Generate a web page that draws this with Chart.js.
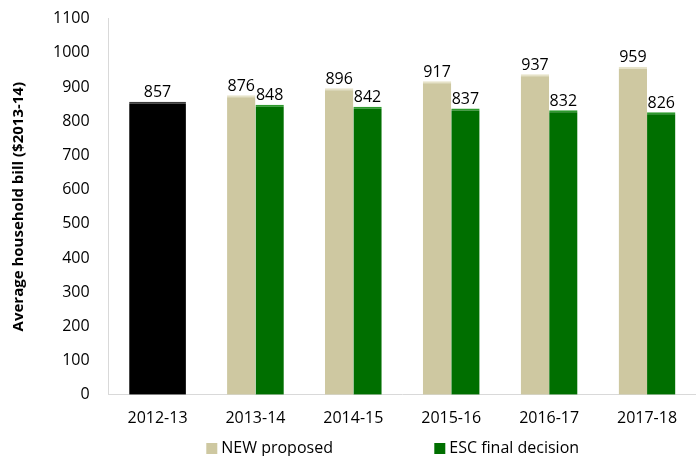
<!DOCTYPE html>
<html>
<head>
<meta charset="utf-8">
<script src="https://cdn.jsdelivr.net/npm/chart.js@4/dist/chart.umd.min.js"></script>
<style>
  html, body { margin: 0; padding: 0; background: #fff; }
  #wrap { width: 696px; height: 456px; }
</style>
</head>
<body>
<div id="wrap"><canvas id="myChart"></canvas></div>
<script>
var years = ['2012-13', '2013-14', '2014-15', '2015-16', '2016-17', '2017-18']
var actual = [857, null, null, null, null, null]
var newProposed = [null, 876, 896, 917, 937, 959]
var escDecision = [null, 848, 842, 837, 832, 826]

var fontFam = '"Open Sans", sans-serif'

// value above each bar
var valueLabels = {
  id: 'valueLabels',
  afterDatasetsDraw: function(chart) {
    var ctx = chart.ctx
    ctx.save()
    ctx.font = '16px ' + fontFam
    ctx.fillStyle = '#000'
    ctx.textAlign = 'center'
    ctx.textBaseline = 'bottom'
    chart.data.datasets.forEach(function(ds, i) {
      var meta = chart.getDatasetMeta(i)
      meta.data.forEach(function(bar, j) {
        var v = ds.data[j]
        if (v === null || v === undefined) return
        ctx.fillText(v, bar.x, bar.y - 1)
      })
    })
    ctx.restore()
  }
}

// legend at the bottom, wide gap between the two entries like the excel one
var bottomLegend = {
  id: 'bottomLegend',
  afterDraw: function(chart) {
    var ctx = chart.ctx
    var area = chart.chartArea
    var items = chart.data.datasets.slice(1)
    var gap = 228
    var x0 = (area.left + area.right) / 2 - 196
    var y = 448
    ctx.save()
    ctx.font = '16px ' + fontFam
    ctx.textBaseline = 'middle'
    ctx.textAlign = 'left'
    items.forEach(function(ds, i) {
      var x = x0 + i * gap
      ctx.fillStyle = ds.backgroundColor
      ctx.fillRect(x, y - 5, 11, 11)
      ctx.fillStyle = '#000'
      ctx.fillText(ds.label, x + 15, y)
    })
    ctx.restore()
  }
}

var ctx = document.getElementById('myChart').getContext('2d')
var chart = new Chart(ctx, {
  type: 'bar',
  data: {
    labels: years,
    datasets: [
      {
        label: '2012-13',
        backgroundColor: '#000000',
        borderColor: '#3a3a3a',
        borderWidth: { top: 2 },
        borderSkipped: false,
        data: actual
      },
      {
        label: 'NEW proposed',
        backgroundColor: '#CEC8A1',
        borderColor: '#E6E2C8',
        borderWidth: { top: 2 },
        borderSkipped: false,
        data: newProposed
      },
      {
        label: 'ESC final decision',
        backgroundColor: '#006F00',
        borderColor: '#2E9A2E',
        borderWidth: { top: 2 },
        borderSkipped: false,
        data: escDecision
      }
    ]
  },
  options: {
    responsive: true,
    maintainAspectRatio: false,
    animation: false,
    skipNull: true,
    categoryPercentage: 0.58,
    barPercentage: 1,
    layout: { padding: { top: 0, right: 0, left: 10, bottom: 14 } },
    plugins: {
      legend: { display: false },
      tooltip: { enabled: false }
    },
    scales: {
      x: {
        grid: { display: false, drawTicks: false },
        border: { color: '#d9d9d9' },
        ticks: { color: '#000', font: { family: fontFam, size: 16 }, padding: 14 }
      },
      y: {
        min: 0,
        max: 1100,
        grid: { display: false, drawTicks: true, tickLength: 10 },
        border: { color: '#d9d9d9' },
        afterFit: function(scale) { scale.width += 10 },
        ticks: {
          stepSize: 100,
          color: '#000',
          font: { family: fontFam, size: 16 },
          padding: 9,
          callback: function(v) { return v }
        },
        title: {
          display: true,
          text: 'Average household bill ($2013-14)',
          color: '#000',
          font: { family: fontFam, size: 15, weight: 'bold' },
          padding: { top: 0, bottom: 6 }
        }
      }
    }
  },
  plugins: [valueLabels, bottomLegend]
})
</script>
</body>
</html>
